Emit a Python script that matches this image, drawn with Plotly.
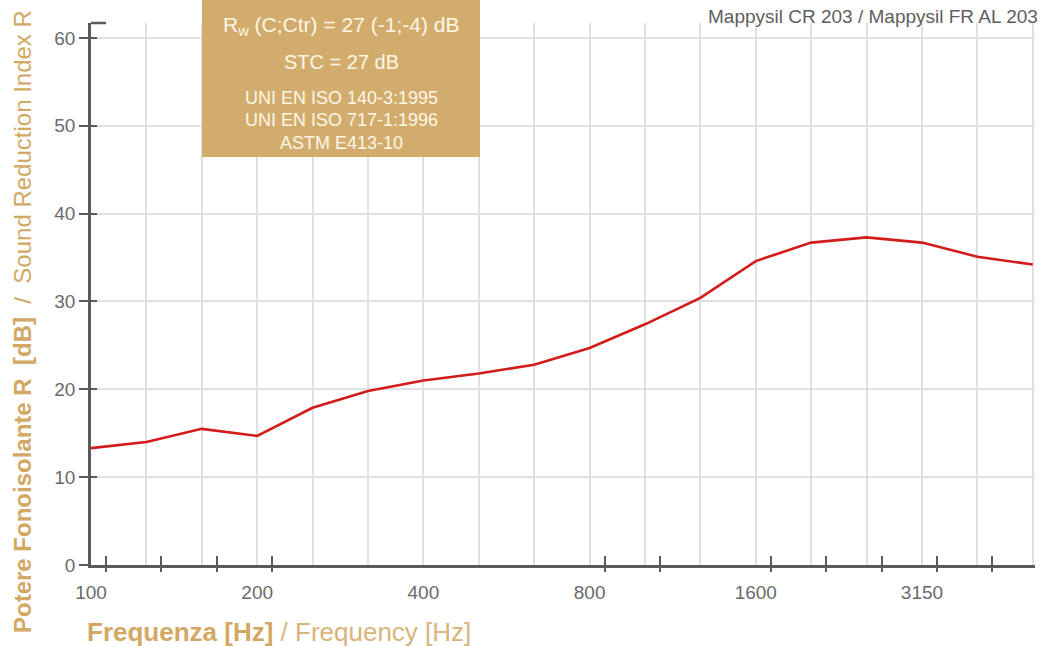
import plotly.graph_objects as go

# Third-octave band centre frequencies (Hz) and measured sound reduction index R (dB)
bands = ["100", "125", "160", "200", "250", "315", "400", "500", "630",
         "800", "1000", "1250", "1600", "2000", "2500", "3150", "4000", "5000"]
r_values = [13.3, 14.0, 15.5, 14.7, 17.9, 19.8, 21.0, 21.8, 22.8,
            24.7, 27.4, 30.4, 34.6, 36.7, 37.3, 36.7, 35.1, 34.2]
labelled_bands = ["100", "200", "400", "800", "1600", "3150"]
ticked_bands = ["100", "125", "160", "200", "800", "1000",
                "1600", "2000", "2500", "3150", "4000"]
y_ticks = [0, 10, 20, 30, 40, 50, 60]

W, H = 1045, 646
L, R, T, B = 91, 10, 23, 81

TAN = "#D2A864"
TAN_LIGHT = "#D9B47A"
BOX = "#D2AC6D"
BOX_TEXT = "#FFF7E6"
AXIS = "#5a5a5a"
GRID = "#e0e0e0"
LABEL = "#6a6a6a"
FONT = "Liberation Sans Narrow, Arial Narrow, Liberation Sans, sans-serif"


def px(x):
    return (x - L) / (W - L - R)


def py(y):
    return (H - B - y) / (H - T - B)


idx = list(range(len(bands)))
x_range = [0, 17.04]
y_range = [0, 61.7]
tick_offset = 0.27
tick_pos = [bands.index(b) + tick_offset for b in ticked_bands]

fig = go.Figure()
fig.add_trace(go.Scatter(
    x=idx, y=r_values, mode="lines",
    line=dict(color="#D21B1B", width=2.6),
    hoverinfo="skip", showlegend=False,
))
# carrier traces so the overlaid tick axes are drawn
for ax in ("x2", "x3"):
    fig.add_trace(go.Scatter(x=[None], y=[None], xaxis=ax, yaxis="y",
                             showlegend=False, hoverinfo="skip"))
fig.add_trace(go.Scatter(x=[None], y=[None], xaxis="x", yaxis="y2",
                         showlegend=False, hoverinfo="skip"))

tick_font = dict(family=FONT, size=19, color=LABEL)

fig.update_layout(
    width=W, height=H,
    margin=dict(l=L, r=R, t=T, b=B),
    paper_bgcolor="white", plot_bgcolor="white",
    xaxis=dict(
        range=x_range, tickmode="array",
        tickvals=[bands.index(b) for b in labelled_bands],
        ticktext=labelled_bands,
        showgrid=False,
        minor=dict(tick0=0, dtick=1, showgrid=True, gridcolor=GRID,
                   gridwidth=1.5, ticks=""),
        showline=True, linecolor=AXIS, linewidth=2.5,
        ticks="outside", ticklen=8, tickcolor="rgba(0,0,0,0)",
        tickfont=tick_font, zeroline=False,
    ),
    xaxis2=dict(
        overlaying="x", anchor="y", range=x_range, tickmode="array",
        tickvals=tick_pos, showticklabels=False, showgrid=False,
        ticks="outside", ticklen=6, tickwidth=2, tickcolor=AXIS,
        showline=False, zeroline=False,
    ),
    xaxis3=dict(
        overlaying="x", anchor="y", range=x_range, tickmode="array",
        tickvals=tick_pos, showticklabels=False, showgrid=False,
        ticks="inside", ticklen=9, tickwidth=2, tickcolor=AXIS,
        showline=False, zeroline=False,
    ),
    yaxis=dict(
        range=y_range, tickmode="array", tickvals=y_ticks,
        showgrid=True, gridcolor=GRID, gridwidth=1.5,
        showline=True, linecolor=AXIS, linewidth=2.5,
        ticks="outside", ticklen=9, tickwidth=2, tickcolor=AXIS,
        tickfont=tick_font, zeroline=False,
    ),
    yaxis2=dict(
        overlaying="y", anchor="x", side="left", range=y_range,
        tickmode="array", tickvals=y_ticks, showticklabels=False,
        showgrid=False, ticks="inside", ticklen=6, tickwidth=2,
        tickcolor=AXIS, showline=False, zeroline=False,
    ),
)

# cap at the top of the vertical axis
fig.add_shape(type="line", xref="x domain", yref="y domain",
              x0=0, x1=0.016, y0=1, y1=1,
              line=dict(color=AXIS, width=2.5))

# rating box
fig.add_shape(type="rect", xref="paper", yref="paper",
              x0=px(202), x1=px(480), y0=py(157), y1=py(-5),
              fillcolor=BOX, line=dict(width=0), layer="above")


def box_text(text, y, size):
    fig.add_annotation(xref="paper", yref="paper", x=px(341), y=py(y),
                       text=text, showarrow=False,
                       xanchor="center", yanchor="middle",
                       font=dict(family=FONT, size=size, color=BOX_TEXT))


box_text("R<sub>w</sub> (C;Ctr) = 27 (-1;-4) dB", 26, 21)
box_text("STC = 27 dB", 62, 20)
box_text("UNI EN ISO 140-3:1995", 98, 18)
box_text("UNI EN ISO 717-1:1996", 120, 18)
box_text("ASTM E413-10", 143, 18)

# product name
fig.add_annotation(xref="paper", yref="paper", x=px(706), y=py(16),
                   text="Mappysil CR 203 / Mappysil FR AL 203",
                   showarrow=False, xanchor="left", yanchor="middle",
                   font=dict(family=FONT, size=19, color="#5e5e5e"))

# axis titles
fig.add_annotation(xref="paper", yref="paper", x=px(22), y=py(322),
                   text="<b>Potere Fonoisolante R  [dB]</b>  /  Sound Reduction Index R",
                   textangle=-90, showarrow=False,
                   xanchor="center", yanchor="middle",
                   font=dict(family=FONT, size=24, color=TAN))
fig.add_annotation(xref="paper", yref="paper", x=px(85), y=py(632),
                   text="<b>Frequenza [Hz]</b> <span style='color:%s'>/ Frequency [Hz]</span>" % TAN_LIGHT,
                   showarrow=False, xanchor="left", yanchor="middle",
                   font=dict(family=FONT, size=26, color=TAN))

fig.write_html("out.html")
